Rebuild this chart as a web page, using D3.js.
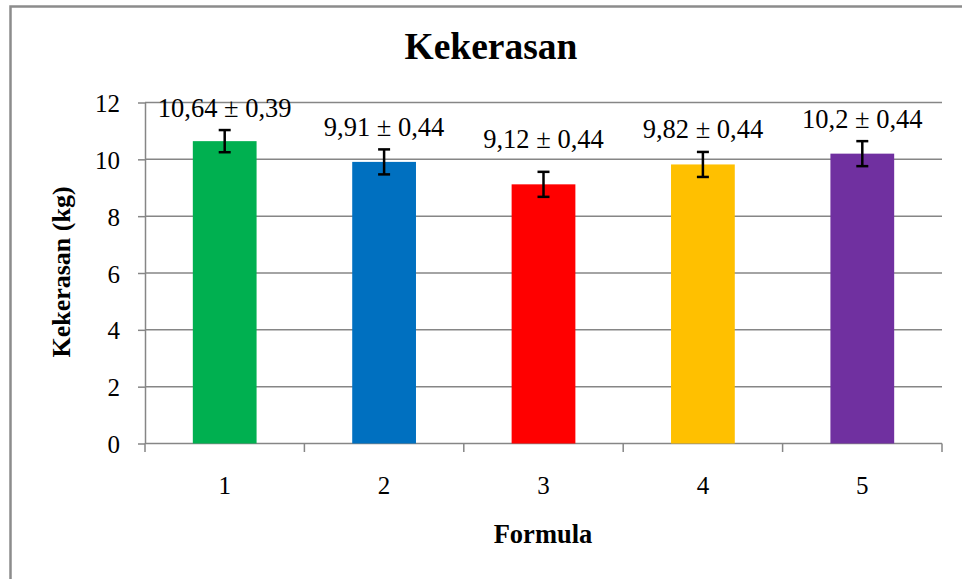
<!DOCTYPE html>
<html>
<head>
<meta charset="utf-8">
<script src="https://cdn.jsdelivr.net/npm/d3@7"></script>
<style>
    html, body { margin: 0; padding: 0; background: #fff; overflow: hidden; }
    svg { display: block; font-family: "Liberation Serif", "Times New Roman", serif; }
    .grid line { stroke: #868686; stroke-width: 1.5; }
    .axis path, .axis line { stroke: #868686; stroke-width: 1.5; }
    .axis text { font-size: 25px; fill: #000; font-family: "Liberation Serif", "Times New Roman", serif; }
</style>
</head>
<body>
<div id="chart"></div>
<script>
const formulas = ['1', '2', '3', '4', '5'];
const hardness = [10.64, 9.91, 9.12, 9.82, 10.2];
const sd = [0.39, 0.44, 0.44, 0.44, 0.44];
const valueLabels = ['10,64 \u00b1 0,39', '9,91 \u00b1 0,44', '9,12 \u00b1 0,44', '9,82 \u00b1 0,44', '10,2 \u00b1 0,44'];
const yTicks = [0, 2, 4, 6, 8, 10, 12];
const barColors = ['#00B050', '#0070C0', '#FF0000', '#FFC000', '#7030A0'];
// Excel put the third label a bit higher than the rest
const labelNudge = [0, 0, -10, 0, 0];

const width = 962, height = 579;
const margin = { top: 102.5, right: 20, bottom: 135.5, left: 145 };

const svg = d3.select('#chart').append('svg')
    .attr('width', width)
    .attr('height', height);

// outer chart border (right and bottom fall outside the picture)
svg.append('rect')
    .attr('x', 10.5).attr('y', 6.5)
    .attr('width', 980).attr('height', 600)
    .attr('fill', 'none')
    .attr('stroke', '#8c8c8c')
    .attr('stroke-width', 2.5);

const x = d3.scaleBand()
    .domain(formulas)
    .range([margin.left, 942])
    .paddingInner(0.6)
    .paddingOuter(0.3);

const y = d3.scaleLinear()
    .domain([0, 12])
    .range([443.5, margin.top]);

// gridlines
svg.append('g')
    .attr('class', 'grid')
    .selectAll('line')
    .data(yTicks.filter(d => d > 0))
    .enter().append('line')
    .attr('x1', margin.left).attr('x2', 942)
    .attr('y1', d => y(d)).attr('y2', d => y(d));

// y axis
svg.append('g')
    .attr('class', 'axis')
    .attr('transform', `translate(${margin.left},0)`)
    .call(d3.axisLeft(y).tickValues(yTicks).tickSize(7).tickPadding(18).tickSizeOuter(0))
    .call(g => g.attr('font-family', null).attr('font-size', null))
    .call(g => g.selectAll('text').attr('dy', '0.36em'));

// x axis: line with ticks on the category boundaries
const x0 = margin.left;
const bounds = d3.range(formulas.length + 1).map(i => x0 + i * (942 - x0) / formulas.length);
const xAxis = svg.append('g').attr('class', 'axis');
xAxis.append('line')
    .attr('x1', x0).attr('x2', 942)
    .attr('y1', y(0)).attr('y2', y(0));
xAxis.selectAll('line.tick')
    .data(bounds)
    .enter().append('line')
    .attr('class', 'tick')
    .attr('x1', d => d).attr('x2', d => d)
    .attr('y1', y(0)).attr('y2', y(0) + 8.5);
xAxis.selectAll('text')
    .data(formulas)
    .enter().append('text')
    .attr('x', d => x(d) + x.bandwidth() / 2)
    .attr('y', 494)
    .attr('text-anchor', 'middle')
    .text(d => d);

// bars
svg.append('g')
    .selectAll('rect')
    .data(hardness)
    .enter().append('rect')
    .attr('x', (d, i) => x(formulas[i]))
    .attr('y', d => y(d))
    .attr('width', x.bandwidth())
    .attr('height', d => y(0) - y(d))
    .attr('fill', (d, i) => barColors[i]);

// error bars
const err = svg.append('g')
    .attr('stroke', '#000')
    .attr('stroke-width', 2.5);
hardness.forEach((v, i) => {
    const cx = x(formulas[i]) + x.bandwidth() / 2;
    err.append('line')
        .attr('x1', cx).attr('x2', cx)
        .attr('y1', y(v - sd[i])).attr('y2', y(v + sd[i]));
    [v - sd[i], v + sd[i]].forEach(e => {
        err.append('line')
            .attr('x1', cx - 6).attr('x2', cx + 6)
            .attr('y1', y(e)).attr('y2', y(e));
    });
});

// value labels
svg.append('g')
    .selectAll('text')
    .data(valueLabels)
    .enter().append('text')
    .attr('x', (d, i) => x(formulas[i]) + x.bandwidth() / 2)
    .attr('y', (d, i) => y(hardness[i] + sd[i]) - 13.5 + labelNudge[i])
    .attr('text-anchor', 'middle')
    .attr('font-size', 26.5)
    .text(d => d);

// titles
svg.append('text')
    .attr('x', 491).attr('y', 59)
    .attr('text-anchor', 'middle')
    .attr('font-size', 37.5)
    .attr('font-weight', 'bold')
    .text('Kekerasan');

svg.append('text')
    .attr('transform', 'translate(70,272) rotate(-90)')
    .attr('text-anchor', 'middle')
    .attr('font-size', 26)
    .attr('font-weight', 'bold')
    .text('Kekerasan (kg)');

svg.append('text')
    .attr('x', 543).attr('y', 543)
    .attr('text-anchor', 'middle')
    .attr('font-size', 26.5)
    .attr('font-weight', 'bold')
    .text('Formula');
</script>
</body>
</html>
